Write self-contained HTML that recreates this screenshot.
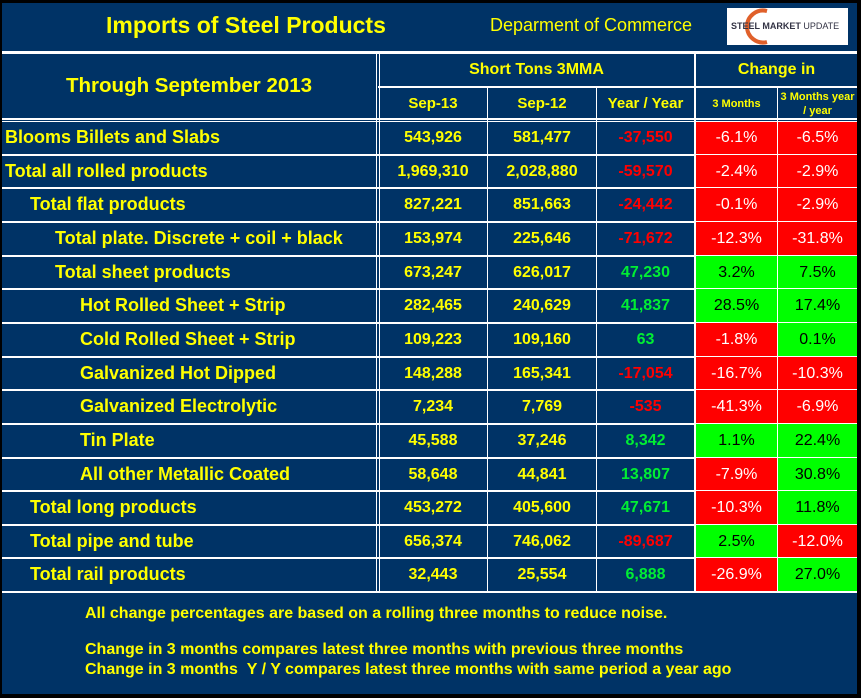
<!DOCTYPE html>
<html><head><meta charset="utf-8"><style>
html,body{margin:0;padding:0;background:#000;}
#wrap{position:relative;width:861px;height:698px;background:#000;overflow:hidden;font-family:"Liberation Sans",Arial,sans-serif;}
#panel{position:absolute;left:2px;top:3px;width:855px;height:691px;background:#003366;}
.t{position:absolute;color:#ffff00;font-weight:bold;white-space:nowrap;}
.c{position:absolute;display:flex;align-items:center;justify-content:center;white-space:nowrap;}
.hl{position:absolute;background:#fff;}
</style></head><body>
<div id="wrap">
<div id="panel"></div>
<div class="t" style="left:106px;top:12px;font-size:23px;">Imports of Steel Products</div>
<div class="t" style="left:490px;top:15px;font-size:18px;font-weight:normal;">Deparment of Commerce</div>
<div style="position:absolute;left:727px;top:8px;width:121px;height:37px;background:#fff;">
 <svg width="121" height="37" style="position:absolute;left:0;top:0">
  <path d="M40 3 A16 16 0 1 0 40 34" fill="none" stroke="#e0602a" stroke-width="4"/>
 </svg>
 <span style="position:absolute;left:4px;top:13px;font-size:9px;font-weight:bold;color:#334;white-space:nowrap;">STEEL MARKET <span style="font-weight:normal">UPDATE</span></span>
</div>
<div class="t" style="left:66px;top:74px;font-size:20.5px;">Through September 2013</div>
<div id="grid"></div>
<div class="t" style="left:85px;top:605px;font-size:16px;">All change percentages are based on a rolling three months to reduce noise.</div>
<div class="t" style="left:85px;top:641px;font-size:16px;">Change in 3 months compares latest three months with previous three months</div>
<div class="t" style="left:85px;top:661px;font-size:16px;">Change in 3 months &nbsp;Y / Y compares latest three months with same period a year ago</div>
</div>
<script>
const labels=["Blooms Billets and Slabs","Total all rolled products","Total flat products","Total plate. Discrete + coil + black","Total sheet products","Hot Rolled Sheet + Strip","Cold Rolled Sheet + Strip","Galvanized Hot Dipped","Galvanized Electrolytic","Tin Plate","All other Metallic Coated","Total long products","Total pipe and tube","Total rail products"];
const levels=[0,0,1,2,2,3,3,3,3,3,3,1,1,1];
const sep13=[543926,1969310,827221,153974,673247,282465,109223,148288,7234,45588,58648,453272,656374,32443];
const sep12=[581477,2028880,851663,225646,626017,240629,109160,165341,7769,37246,44841,405600,746062,25554];
const yoy=[-37550,-59570,-24442,-71672,47230,41837,63,-17054,-535,8342,13807,47671,-89687,6888];
const chg3m=[-6.1,-2.4,-0.1,-12.3,3.2,28.5,-1.8,-16.7,-41.3,1.1,-7.9,-10.3,2.5,-26.9];
const chg3mYY=[-6.5,-2.9,-2.9,-31.8,7.5,17.4,0.1,-10.3,-6.9,22.4,30.8,11.8,-12.0,27.0];

const g=document.getElementById('wrap');
const top0=121, rowH=33.65;
function fmt(n){return n.toLocaleString('en-US');}
function line(x,y,w,h,name){const d=document.createElement('div');d.className='hl';


d.style.left=x+'px';d.style.top=y+'px';d.style.width=w+'px';d.style.height=h+'px';g.appendChild(d);}
function cell(x,y,w,h,txt,color,bg,size,weight,name){const d=document.createElement('div');d.className='c';


d.style.left=x+'px';d.style.top=y+'px';d.style.width=w+'px';d.style.height=h+'px';
d.style.color=color;if(bg)d.style.background=bg;d.style.fontSize=size+'px';d.style.fontWeight=weight;d.innerHTML=txt;g.appendChild(d);return d;}

cell(379,53,315,33,"Short Tons 3MMA","#ff0","",16,"bold","header-short-tons");
cell(696,53,161,33,"Change in","#ff0","",16,"bold","header-change-in");
cell(379,87,108,33,"Sep-13","#ff0","",15,"bold","header-sep-13");
cell(488,87,108,33,"Sep-12","#ff0","",15,"bold","header-sep-12");
cell(597,87,97,33,"Year / Year","#ff0","",15,"bold","header-year-year");
cell(696,87,81,33,"3 Months","#ff0","",11,"bold","header-3-months");
const h5=cell(778,87,79,33,"3 Months year<br>/ year","#ff0","",11,"bold","header-3-months-yy");h5.style.textAlign='center';h5.style.lineHeight='14px';

for(let i=0;i<labels.length;i++){
 const y=Math.round(top0+i*rowH), y2=Math.round(top0+(i+1)*rowH), h=y2-y;
 const l=document.createElement('div');l.className='t';
 
 
 l.style.left=(5+levels[i]*25)+'px';l.style.top=(y+6)+'px';l.style.fontSize='18px';l.textContent=labels[i];g.appendChild(l);
 cell(379,y,108,h,fmt(sep13[i]),"#ff0","",16,"bold","value-sep-13");
 cell(488,y,108,h,fmt(sep12[i]),"#ff0","",16,"bold","value-sep-12");
 cell(597,y,97,h,fmt(yoy[i]),yoy[i]<0?"#ff0000":"#00ee33","",16,"bold","value-year-year");
 const a=chg3m[i],b=chg3mYY[i];
 cell(696,y,81,h,a.toFixed(1)+"%",a<0?"#fff":"#000",a<0?"#ff0000":"#00ff00",16,"normal","change-3-months");
 cell(778,y,79,h,b.toFixed(1)+"%",b<0?"#fff":"#000",b<0?"#ff0000":"#00ff00",16,"normal","change-3-months-yy");
 line(2,y2-1,855,2,"row-divider");
}
line(2,51,855,3,"header-top-line");
line(378,86,479,2,"header-mid-line");
line(2,118,855,2,"header-bottom-line-1");
line(2,121,855,1,"header-bottom-line-2");
line(376,53,1,539,"label-divider-1");
line(379,53,1,539,"label-divider-2");
line(487,87,1,505,"col-divider-sep12");
line(596,87,1,505,"col-divider-yoy");
line(694,53,2,539,"col-divider-change");
line(777,87,1,505,"col-divider-3m-yy");
</script>
</body></html>
